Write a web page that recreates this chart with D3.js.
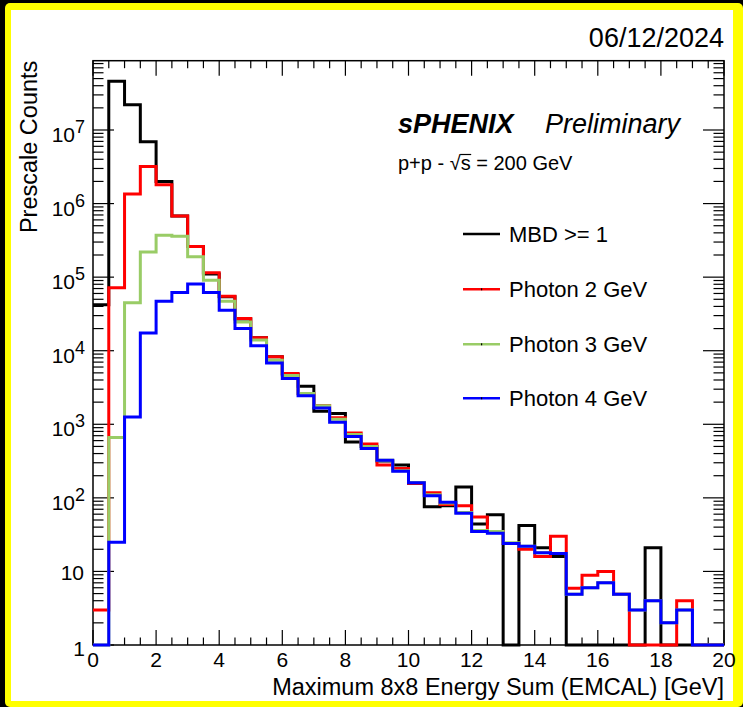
<!DOCTYPE html>
<html>
<head>
<meta charset="utf-8">
<script src="https://cdn.jsdelivr.net/npm/d3@7/dist/d3.min.js"></script>
<style>
  body { margin: 0; background: #000; }
  svg { display: block; font-family: "Liberation Sans", Arial, Helvetica, sans-serif; }
</style>
</head>
<body>
<svg id="chart"></svg>
<script>
// lower edge of each 0.5 GeV bin
const binLow = [0, 0.5, 1, 1.5, 2, 2.5, 3, 3.5, 4, 4.5, 5, 5.5, 6, 6.5, 7, 7.5, 8, 8.5, 9, 9.5,
  10, 10.5, 11, 11.5, 12, 12.5, 13, 13.5, 14, 14.5, 15, 15.5, 16, 16.5, 17, 17.5, 18, 18.5, 19, 19.5];

const mbd = [42000, 4.6e7, 2.2e7, 6.9e6, 2.0e6, 6.8e5, 2.6e5, 1.1e5, 5.4e4, 2.7e4,
  1.5e4, 8300, 4800, 3300, 1500, 1400, 575, 500, 316, 280,
  158, 76, 78, 141, 44, 59, 0, 42, 21, 16,
  0, 0, 0, 0, 0, 21, 0, 0, 0, 0];

const photon2 = [3, 72000, 1.35e6, 3.2e6, 1.8e6, 6.8e5, 2.6e5, 1.15e5, 5.5e4, 2.75e4,
  1.5e4, 8300, 4900, 2600, 1800, 1230, 760, 540, 280, 250,
  158, 117, 81, 78, 55, 35, 24, 20, 16, 30,
  5.9, 8.9, 10, 4.9, 0, 0, 0, 4, 0, 0];

const photon3 = [0, 660, 4.5e4, 2.2e5, 3.7e5, 3.6e5, 1.9e5, 9.1e4, 4.7e4, 2.45e4,
  1.4e4, 7400, 4600, 2630, 1780, 1175, 725, 500, 324, 234,
  162, 110, 85, 63, 36, 35, 24.5, 22, 18, 17.5,
  4.9, 6, 7, 4.9, 3, 4, 2, 3, 0, 0];

const photon4 = [0, 25, 1260, 17400, 47000, 62000, 81000, 62000, 35500, 20000,
  11700, 6800, 4200, 2450, 1660, 1070, 680, 470, 324, 230,
  160, 107, 87, 62, 35, 33, 24, 22, 18, 17.5,
  4.9, 6, 7, 4.9, 3, 4, 2, 3, 0, 0];

const legendLabels = ["MBD >= 1", "Photon 2 GeV", "Photon 3 GeV", "Photon 4 GeV"];
const xTickLabels = [0, 2, 4, 6, 8, 10, 12, 14, 16, 18, 20];
const yDecades = [0, 1, 2, 3, 4, 5, 6, 7];

const binWidth = 0.5;
const colors = ["#000000", "#ff0000", "#99cc66", "#0000ff"];

const W = 743, H = 707;
const frame = { left: 93, right: 724, top: 60.7, bottom: 645 };

const svg = d3.select("#chart").attr("width", W).attr("height", H);

// slide border
svg.append("rect").attr("width", W).attr("height", H).attr("fill", "#000");
svg.append("rect").attr("x", 5).attr("y", 3).attr("width", W - 5).attr("height", H - 3)
  .attr("rx", 5).attr("fill", "#ffff00");
svg.append("rect").attr("x", 11).attr("y", 10).attr("width", 722).attr("height", 691)
  .attr("fill", "#fff");

const x = d3.scaleLinear().domain([0, 20]).range([frame.left, frame.right]);
const y = d3.scaleLog().domain([1, Math.pow(10, 7.942)]).range([frame.bottom, frame.top]);

// frame
svg.append("rect")
  .attr("x", frame.left).attr("y", frame.top)
  .attr("width", frame.right - frame.left).attr("height", frame.bottom - frame.top)
  .attr("fill", "none").attr("stroke", "#000").attr("stroke-width", 1.5);

// x ticks (bottom + top), minor every 0.5
const g = svg.append("g").attr("stroke", "#000").attr("stroke-width", 1.2);
binLow.concat([20]).forEach(v => {
  const major = xTickLabels.includes(v);
  const len = major ? 15 : 7.5;
  g.append("line").attr("x1", x(v)).attr("x2", x(v))
    .attr("y1", frame.bottom).attr("y2", frame.bottom - len);
  g.append("line").attr("x1", x(v)).attr("x2", x(v))
    .attr("y1", frame.top).attr("y2", frame.top + len);
});

// y ticks (left + right), log minors
yDecades.forEach(p => {
  for (let m = 1; m <= 9; m++) {
    const v = m * Math.pow(10, p);
    if (v > y.domain()[1]) break;
    const len = m === 1 ? 21 : 10.5;
    g.append("line").attr("x1", frame.left).attr("x2", frame.left + len)
      .attr("y1", y(v)).attr("y2", y(v));
    g.append("line").attr("x1", frame.right).attr("x2", frame.right - len)
      .attr("y1", y(v)).attr("y2", y(v));
  }
});

// x tick labels
svg.append("g").selectAll("text")
  .data(xTickLabels)
  .join("text")
  .attr("x", d => x(d))
  .attr("y", 667)
  .attr("text-anchor", "middle")
  .attr("font-size", 21)
  .text(d => d);

// y tick labels: 1, 10, 10^n
const yLab = svg.append("g").attr("font-size", 21).attr("text-anchor", "end");
yDecades.forEach(p => {
  const ty = y(Math.pow(10, p));
  if (p === 0) {
    yLab.append("text").attr("x", 85).attr("y", ty + 11).text("1");
  } else if (p === 1) {
    yLab.append("text").attr("x", 84).attr("y", ty + 9).text("10");
  } else {
    const t = yLab.append("text").attr("x", 85).attr("y", ty + 12);
    t.append("tspan").text("10");
    t.append("tspan").attr("font-size", 18).attr("dy", -9).text(p);
  }
});

// axis titles
svg.append("text")
  .attr("x", frame.right).attr("y", 695)
  .attr("text-anchor", "end").attr("font-size", 23.5)
  .text("Maximum 8x8 Energy Sum (EMCAL) [GeV]");

svg.append("text")
  .attr("transform", `translate(37,${frame.top}) rotate(-90)`)
  .attr("text-anchor", "end").attr("font-size", 23.5)
  .text("Prescale Counts");

// date
svg.append("text")
  .attr("x", frame.right).attr("y", 47)
  .attr("text-anchor", "end").attr("font-size", 27)
  .text("06/12/2024");

// histograms as step outlines
const series = [mbd, photon2, photon3, photon4];
const yMin = y.domain()[0];
const line = d3.line();

series.forEach((vals, i) => {
  const pts = [];
  binLow.forEach((lo, j) => {
    const v = Math.max(vals[j], yMin);
    pts.push([x(lo), y(v)]);
    pts.push([x(lo + binWidth), y(v)]);
  });
  svg.append("path")
    .attr("d", line(pts))
    .attr("fill", "none")
    .attr("stroke", colors[i])
    .attr("stroke-width", 3)
    .attr("stroke-linejoin", "miter");
});

// labels
svg.append("text")
  .attr("x", 398).attr("y", 133)
  .attr("font-size", 27).attr("font-weight", "bold").attr("font-style", "italic")
  .text("sPHENIX");
svg.append("text")
  .attr("x", 545).attr("y", 133)
  .attr("font-size", 27).attr("font-style", "italic")
  .text("Preliminary");

const energy = svg.append("text")
  .attr("x", 398).attr("y", 170)
  .attr("font-size", 20)
  .text("p+p - \u221As = 200 GeV");
const n = energy.node();
const sStart = n.getStartPositionOfChar(7).x;
const sEnd = n.getEndPositionOfChar(7).x;
svg.append("line")
  .attr("x1", sStart - 0.5).attr("x2", sEnd + 0.5)
  .attr("y1", 170 - 15.5).attr("y2", 170 - 15.5)
  .attr("stroke", "#000").attr("stroke-width", 1.2);

// legend
const rowY = [234, 289.3, 344.3, 398.3];
const legend = svg.append("g");
legendLabels.forEach((lab, i) => {
  legend.append("line")
    .attr("x1", 463).attr("x2", 500)
    .attr("y1", rowY[i]).attr("y2", rowY[i])
    .attr("stroke", colors[i]).attr("stroke-width", 2.5);
  if (i > 0) {
    legend.append("rect")
      .attr("x", 481).attr("y", rowY[i] - 1).attr("width", 1.2).attr("height", 2)
      .attr("fill", "#000");
  }
  legend.append("text")
    .attr("x", 509).attr("y", rowY[i] + 8)
    .attr("font-size", 22)
    .text(lab);
});
</script>
</body>
</html>
